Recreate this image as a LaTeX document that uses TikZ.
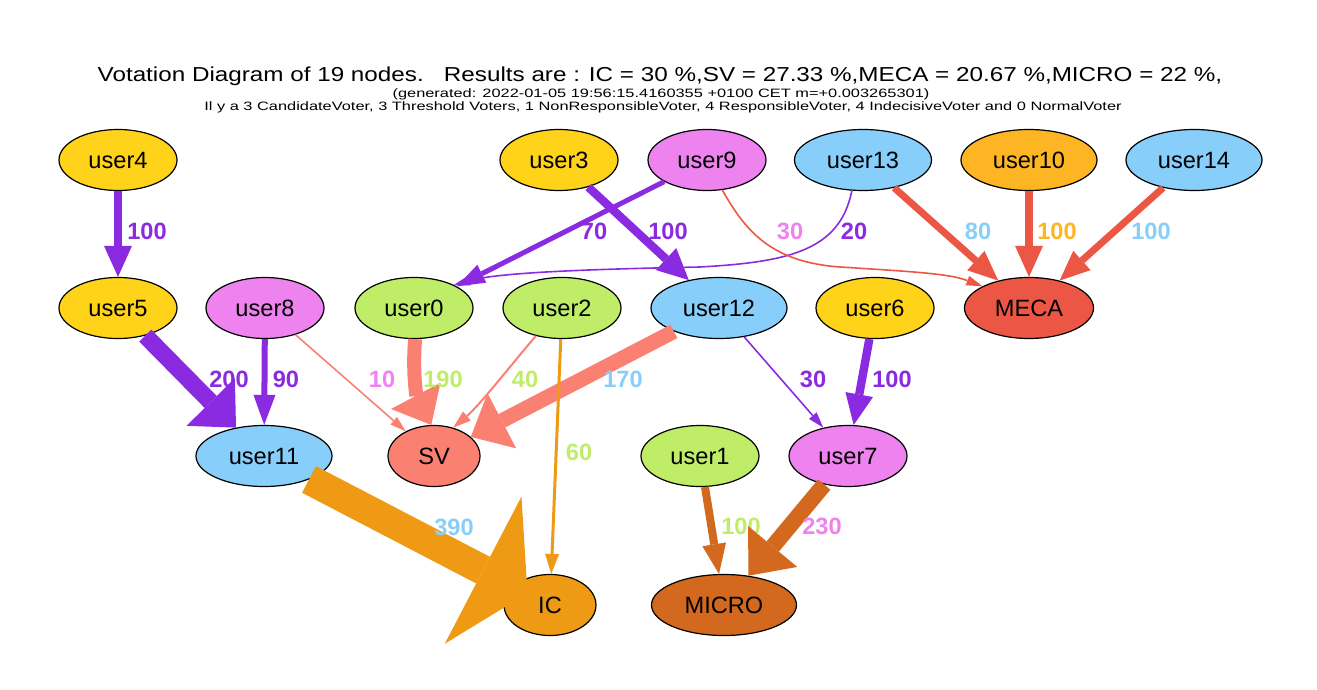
\documentclass[tikz,border=0pt]{standalone}
\usepackage{fontspec}
\setmainfont{Liberation Sans}
\newfontfamily\ttlfont[FakeStretch=1.2]{Liberation Sans}
\newfontfamily\subfont[FakeStretch=1.35]{Liberation Sans}
\usetikzlibrary{arrows.meta,shapes.geometric}
\definecolor{goldc}{HTML}{FFD319}
\definecolor{violetc}{HTML}{EE82EE}
\definecolor{skyc}{HTML}{87CEFA}
\definecolor{orangec}{HTML}{FDB523}
\definecolor{greenc}{HTML}{BFED68}
\definecolor{tomatoc}{HTML}{EC5745}
\definecolor{salmonc}{HTML}{FA8072}
\definecolor{icc}{HTML}{EE9A14}
\definecolor{microc}{HTML}{D2691E}
\definecolor{bviolet}{HTML}{8A2BE2}

\begin{document}
\begin{tikzpicture}[x=.5pt,y=-.5pt,
  usr/.style={draw,ellipse,line width=.6pt,inner sep=0pt,minimum height=30.5pt,font=\fontsize{11.8}{14}\selectfont},
  lab/.style={inner sep=0pt,font=\fontsize{11.8}{14}\selectfont\bfseries},
  hd/.style 2 args={-{Triangle[length=#1,width=#2,line width=0pt]}}]
  \useasboundingbox (0,0) rectangle (1317,690);
  \node[anchor=base,inner sep=0pt,font=\ttlfont\fontsize{10.1}{12}\selectfont] (title) at (660,82)
    {Votation Diagram of 19 nodes.\ \ \ Results are : IC = 30 \%,SV = 27.33 \%,MECA = 20.67 \%,MICRO = 22 \%,};
  \node[anchor=base,inner sep=0pt,font=\subfont\fontsize{6.07}{8}\selectfont] (gen) at (661,97.5)
    {(generated: 2022-01-05 19:56:15.4160355 +0100 CET m=+0.003265301)};
  \node[anchor=base,inner sep=0pt,font=\subfont\fontsize{6.07}{8}\selectfont] (info) at (663,110.5)
    {Il y a 3 CandidateVoter, 3 Threshold Voters, 1 NonResponsibleVoter, 4 ResponsibleVoter, 4 IndecisiveVoter and 0 NormalVoter};
  % voters and candidates
  \foreach \n/\x/\y/\c/\w in {user4/118/160/goldc/59, user3/559/160/goldc/59, user9/707/160/violetc/59,
      user13/863/160/skyc/68.5, user10/1029/160/orangec/68, user14/1194/160/skyc/68,
      user5/118/308/goldc/59, user8/265/308/violetc/59, user0/414/308/greenc/59, user2/562/308/greenc/59,
      user12/719/308/skyc/68, user6/875/308/goldc/59, MECA/1029/308/tomatoc/64.5,
      user11/264/456/skyc/68, SV/434/456/salmonc/46, user1/700/456/greenc/59, user7/848/456/violetc/59,
      IC/550/605/icc/46, MICRO/724/605/microc/72.5}
    \node[usr,fill=\c,minimum width=\w pt] (\n) at (\x,\y) {\n};
  % straight votes
  \foreach \a/\b/\c/\lw/\hl/\hw/\lx/\ly/\lc/\t in {
      user4/user5/bviolet/4pt/15.5pt/14pt/147/231/bviolet/100,
      user9/user0/bviolet/2.5pt/14pt/10pt/594/231/bviolet/70,
      user3/user12/bviolet/4.2pt/15.5pt/15pt/668/231/bviolet/100,
      user13/MECA/tomatoc/3.5pt/15pt/13pt/978/231/skyc/80,
      user10/MECA/tomatoc/4pt/15.5pt/14pt/1057/231/orangec/100,
      user14/MECA/tomatoc/3.5pt/15pt/13pt/1151/231/skyc/100,
      user5/user11/bviolet/8.5pt/18pt/34pt/229/379/bviolet/200,
      user8/user11/bviolet/3pt/15pt/11pt/286/379/bviolet/90,
      user8/SV/salmonc/.8pt/8pt/5pt/382/379/violetc/10,
      user12/SV/salmonc/7.5pt/17.5pt/31pt/623/379/skyc/170,
      user12/user7/bviolet/.8pt/8pt/5pt/813/379/bviolet/30,
      user6/user7/bviolet/4.2pt/15.5pt/14pt/892/379/bviolet/100,
      user2/IC/icc/1.5pt/10pt/7pt/579/452/greenc/60,
      user1/MICRO/microc/4pt/15pt/12pt/741/526/greenc/100,
      user7/MICRO/microc/8pt/19pt/32pt/822/526/violetc/230}
    \draw[color=\c,line width=\lw,hd={\hl}{\hw}] (\a) -- (\b) node[lab,text=\lc] (l-\a-\b) at (\lx,\ly) {\t};
  \draw[icc,line width=15pt,hd={25pt}{83pt},shorten >=-8pt] (user11) -- (IC)
    node[lab,text=skyc] (l-user11-IC) at (454,527) {390};
  % curved ones
  \draw[bviolet,line width=.8pt,hd={8pt}{5pt}] (user13.250) .. controls (840,250) and (790,262) .. (700,267)
    .. controls (600,269) and (500,272) .. (user0.30) node[lab,text=bviolet] (l-user13-user0) at (854,231) {20};
  \draw[tomatoc,line width=.8pt,hd={8pt}{5pt}] (user9.297) .. controls (745,230) and (770,262) .. (840,267)
    .. controls (920,272) and (950,274) .. (MECA.155) node[lab,text=violetc] (l-user9-MECA) at (790,231) {30};
  \draw[salmonc,line width=7pt,hd={16.5pt}{28pt}] (user0.272) .. controls (412,380) and (418,400) .. (SV.95)
    node[lab,text=greenc] (l-user0-SV) at (443,379) {190};
  \draw[salmonc,line width=1pt,hd={9pt}{6pt}] (user2.227) .. controls (515,360) and (480,405) .. (SV.56)
    node[lab,text=greenc] (l-user2-SV) at (525,379) {40};
\end{tikzpicture}
\end{document}
